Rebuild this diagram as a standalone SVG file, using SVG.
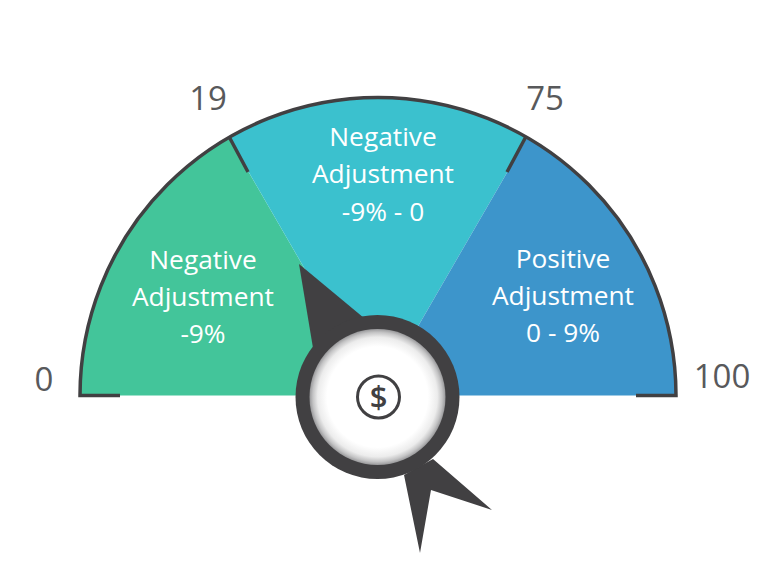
<svg xmlns="http://www.w3.org/2000/svg" width="768" height="586" viewBox="0 0 768 586">
<style>
.l{font-family:"Open Sans","Noto Sans","Liberation Sans",sans-serif;font-size:26.300px;fill:#fff;text-anchor:middle}
.n{font-family:"Open Sans","Noto Sans","Liberation Sans",sans-serif;font-size:33px;fill:#58595b;text-anchor:middle}
.d{fill:#414042}
.s{fill:none;stroke:#414042;stroke-width:3.500}
</style>
<defs>
<radialGradient id="g" cx="0.5" cy="0.5" r="0.5">
<stop offset="0.74" stop-color="#fff"/>
<stop offset="0.88" stop-color="#ececec"/>
<stop offset="0.95" stop-color="#c4c4c5"/>
<stop offset="1" stop-color="#98989a"/>
</radialGradient>
</defs>
<rect width="768" height="586" fill="#fff"/>
<g id="segment-left">
<path d="M80 395.500A298 298 0 0 1 229 138L378 395.500Z" fill="#43c59a"/>
<text class="l" x="203" y="269">Negative</text>
<text class="l" x="203" y="306">Adjustment</text>
<text class="l" x="203" y="343">-9%</text>
</g>
<g id="segment-middle">
<path d="M229 138A298 298 0 0 1 527 138L378 395.500Z" fill="#3bc1ce"/>
<text class="l" x="383" y="146">Negative</text>
<text class="l" x="383" y="183">Adjustment</text>
<text class="l" x="383" y="221">-9% - 0</text>
</g>
<g id="segment-right">
<path d="M527 138A298 298 0 0 1 676 395.500L378 395.500Z" fill="#3d95cb"/>
<text class="l" x="563" y="268">Positive</text>
<text class="l" x="563" y="305">Adjustment</text>
<text class="l" x="563" y="342">0 - 9%</text>
</g>
<g id="scale">
<path class="s" d="M120 395.500H80A298 298 0 0 1 676 395.500H636"/>
<path class="s" d="M229.500 137.500L248 172M525.500 137.500L507 172"/>
<text class="n" x="208" y="110">19</text>
<text class="n" x="545" y="110">75</text>
<text class="n" x="44" y="391">0</text>
<text class="n" x="722" y="388">100</text>
</g>
<g id="dial">
<path class="d" d="M299 264L364 318L313 348Z"/>
<path class="d" d="M433 459L492 510L431 490L420 553L404 475Z"/>
<circle cx="377.500" cy="397" r="82" fill="#414042"/>
<circle cx="377.500" cy="397" r="68" fill="url(#g)"/>
<circle cx="378.500" cy="397" r="21" fill="none" stroke="#414042" stroke-width="3"/>
<text x="378.500" y="408" font-family="'Open Sans','Noto Sans',sans-serif" font-weight="600" font-size="31" fill="#414042" text-anchor="middle">$</text>
</g>
</svg>
